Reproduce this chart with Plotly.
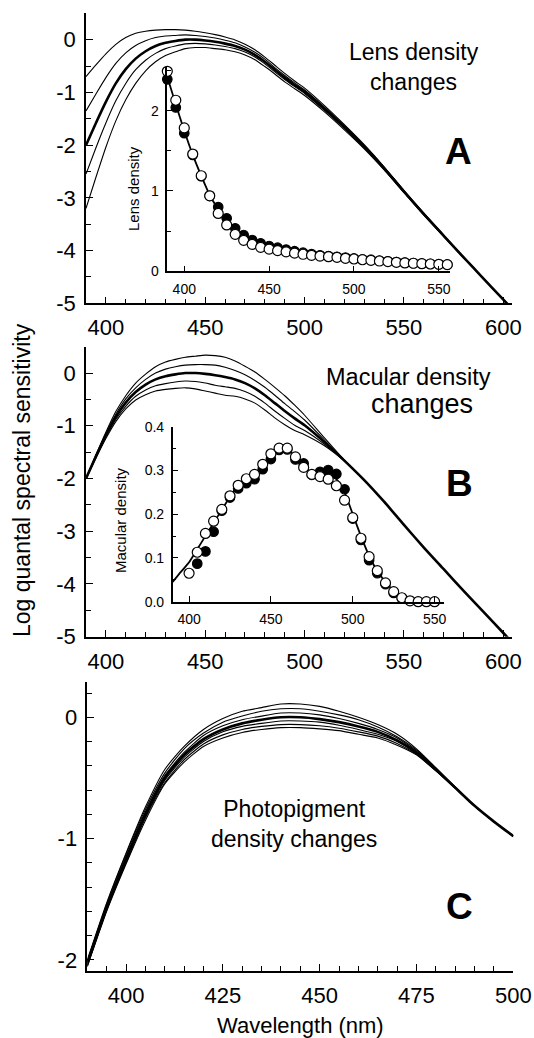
import plotly.graph_objects as go

# ---------------- data ----------------
wl_main = [390, 395, 400, 405, 410, 415, 420, 425, 430, 435, 440, 445, 450, 455, 460, 465, 470,
           475, 480, 485, 490, 495, 500, 510, 520, 530, 540, 550, 560, 570, 580, 590, 600, 604]

# Panel A: lens density changes (thin curves + thick standard curve)
a_thick = [-2.00, -1.58, -1.18, -0.83, -0.56, -0.36, -0.22, -0.12, -0.06, -0.025, 0.0, 0.0, -0.015,
           -0.04, -0.075, -0.12, -0.19, -0.29, -0.42, -0.57, -0.72, -0.86, -0.99, -1.31, -1.66,
           -2.03, -2.44, -2.88, -3.31, -3.72, -4.13, -4.53, -4.93, -5.09]
a_thin1 = [-0.70, -0.48, -0.27, -0.09, 0.04, 0.12, 0.16, 0.18, 0.19, 0.19, 0.18, 0.16, 0.13, 0.095,
           0.05, -0.005, -0.085, -0.19, -0.33, -0.485, -0.64, -0.785, -0.92, -1.25, -1.61, -1.99,
           -2.41, -2.86, -3.29, -3.71, -4.12, -4.53, -4.93, -5.09]
a_thin2 = [-1.35, -1.03, -0.72, -0.45, -0.25, -0.11, -0.02, 0.04, 0.07, 0.08, 0.09, 0.08, 0.06, 0.03,
           -0.01, -0.06, -0.14, -0.24, -0.37, -0.53, -0.68, -0.82, -0.955, -1.28, -1.63, -2.01,
           -2.42, -2.87, -3.30, -3.71, -4.13, -4.53, -4.93, -5.09]
a_thin3 = [-2.55, -2.05, -1.58, -1.16, -0.83, -0.57, -0.39, -0.26, -0.17, -0.12, -0.08, -0.07, -0.08,
           -0.10, -0.13, -0.17, -0.235, -0.33, -0.46, -0.61, -0.755, -0.89, -1.02, -1.34, -1.68,
           -2.05, -2.45, -2.89, -3.32, -3.73, -4.13, -4.53, -4.93, -5.09]
a_thin4 = [-3.20, -2.61, -2.04, -1.54, -1.14, -0.83, -0.59, -0.42, -0.30, -0.23, -0.17, -0.15, -0.15,
           -0.17, -0.19, -0.23, -0.29, -0.38, -0.51, -0.65, -0.80, -0.93, -1.06, -1.37, -1.71,
           -2.07, -2.47, -2.90, -3.33, -3.73, -4.14, -4.53, -4.93, -5.09]

# Inset A: lens density
wl_lens = [390, 395, 400, 405, 410, 415, 420, 425, 430, 435, 440, 445, 450, 455, 460, 465, 470,
           475, 480, 485, 490, 495, 500, 505, 510, 515, 520, 525, 530, 535, 540, 545, 550, 555]
lens_fit = [2.42, 2.08, 1.75, 1.45, 1.19, 0.95, 0.77, 0.62, 0.50, 0.42, 0.36, 0.32, 0.29, 0.27, 0.25,
            0.23, 0.215, 0.20, 0.19, 0.18, 0.17, 0.16, 0.15, 0.14, 0.135, 0.125, 0.117, 0.11, 0.10,
            0.097, 0.092, 0.088, 0.085, 0.08]
lens_filled = [2.39, 2.04, 1.72, 1.45, 1.185, 0.94, 0.80, 0.66, 0.535, 0.452, 0.39, 0.349, 0.315,
               0.294, 0.27, 0.25, 0.232, 0.215, 0.20, 0.19, 0.18, 0.17, 0.16, 0.15, 0.142, 0.132,
               0.124, 0.116, 0.108, 0.102, 0.097, 0.092, 0.088, 0.083]
lens_open = [2.49, 2.13, 1.785, 1.46, 1.19, 0.94, 0.72, 0.577, 0.46, 0.386, 0.336, 0.299, 0.276,
             0.257, 0.242, 0.226, 0.212, 0.199, 0.19, 0.182, 0.174, 0.162, 0.153, 0.144, 0.137,
             0.128, 0.12, 0.112, 0.104, 0.10, 0.095, 0.091, 0.087, 0.083]

# Panel B: macular density changes
wl_b_thin = [390, 395, 400, 405, 410, 415, 420, 425, 430, 435, 440, 445, 450, 455, 460, 465, 470,
             475, 480, 485, 490, 495, 500, 510, 520, 530]
b_thick = [-2.00, -1.58, -1.18, -0.83, -0.56, -0.36, -0.22, -0.12, -0.06, -0.025, 0.0, 0.0, -0.015,
           -0.04, -0.075, -0.12, -0.19, -0.29, -0.42, -0.57, -0.72, -0.86, -0.99, -1.31, -1.66,
           -2.03, -2.44, -2.88, -3.31, -3.72, -4.13, -4.53, -4.93, -5.09]
b_thin1 = [-2.00, -1.55, -1.12, -0.73, -0.43, -0.19, -0.02, 0.12, 0.21, 0.26, 0.30, 0.32, 0.34, 0.33,
           0.30, 0.23, 0.13, 0.02, -0.12, -0.27, -0.43, -0.61, -0.80, -1.23, -1.65, -2.03]
b_thin2 = [-2.00, -1.565, -1.15, -0.78, -0.49, -0.28, -0.12, 0.0, 0.075, 0.12, 0.15, 0.16, 0.16, 0.15,
           0.11, 0.05, -0.03, -0.14, -0.27, -0.42, -0.58, -0.73, -0.89, -1.27, -1.66, -2.03]
b_thin3 = [-2.00, -1.60, -1.21, -0.88, -0.63, -0.44, -0.32, -0.24, -0.20, -0.17, -0.15, -0.16, -0.19,
           -0.23, -0.26, -0.29, -0.35, -0.44, -0.57, -0.72, -0.86, -0.99, -1.09, -1.35, -1.66, -2.03]
b_thin4 = [-2.00, -1.61, -1.24, -0.92, -0.68, -0.51, -0.41, -0.34, -0.31, -0.29, -0.28, -0.30, -0.34,
           -0.38, -0.42, -0.44, -0.49, -0.57, -0.70, -0.85, -0.98, -1.09, -1.17, -1.38, -1.67, -2.03]

# Inset B: macular density
wl_mac_fit = [390, 395, 400, 405, 410, 415, 420, 425, 430, 435, 440, 445, 450, 455, 460, 465, 470,
              475, 480, 485, 490, 495, 500, 505, 510, 515, 520, 525, 530, 535, 540]
mac_fit = [0.045, 0.068, 0.09, 0.12, 0.15, 0.18, 0.21, 0.24, 0.265, 0.28, 0.29, 0.31, 0.335, 0.35,
           0.35, 0.33, 0.31, 0.295, 0.29, 0.29, 0.28, 0.25, 0.20, 0.15, 0.105, 0.07, 0.045, 0.025,
           0.01, 0.003, 0.0]
wl_mac_filled = [405, 410, 415, 420, 425, 430, 435, 440, 445, 450, 455, 460, 465, 470, 475, 480, 485,
                 490, 495, 500, 505, 510, 515, 520, 525, 530]
mac_filled = [0.087, 0.115, 0.16, 0.208, 0.238, 0.259, 0.271, 0.28, 0.303, 0.326, 0.347, 0.348, 0.325,
              0.316, 0.29, 0.297, 0.301, 0.292, 0.257, 0.19, 0.141, 0.095, 0.065, 0.04, 0.02, 0.008]
wl_mac_open = [400, 405, 410, 415, 420, 425, 430, 435, 440, 445, 450, 455, 460, 465, 470, 475, 480,
               485, 490, 495, 500, 505, 510, 515, 520, 525, 530, 535, 540, 545, 550]
mac_open = [0.065, 0.113, 0.156, 0.184, 0.211, 0.242, 0.266, 0.281, 0.291, 0.314, 0.338, 0.351, 0.351,
            0.331, 0.307, 0.291, 0.286, 0.28, 0.265, 0.232, 0.192, 0.145, 0.103, 0.071, 0.043, 0.023,
            0.009, 0.002, 0.0, 0.0, 0.0]

# Panel C: photopigment density changes
wl_c = [390, 395, 400, 405, 410, 415, 420, 425, 430, 435, 440, 445, 450, 455, 460, 465, 470, 475,
        480, 485, 490, 495, 500]
c_thick = [-2.03, -1.57, -1.17, -0.80, -0.50, -0.31, -0.18, -0.10, -0.05, -0.02, 0.0, 0.0, -0.015,
           -0.04, -0.075, -0.12, -0.19, -0.29, -0.43, -0.58, -0.73, -0.86, -0.98]
c_thin1 = [-2.00, -1.53, -1.12, -0.74, -0.43, -0.24, -0.10, -0.01, 0.05, 0.08, 0.11, 0.11, 0.09, 0.05,
           0.0, -0.06, -0.14, -0.26, -0.415, -0.574, -0.73, -0.86, -0.98]
c_thin2 = [-2.01, -1.54, -1.13, -0.76, -0.46, -0.26, -0.13, -0.04, 0.01, 0.05, 0.07, 0.07, 0.05, 0.02,
           -0.02, -0.08, -0.16, -0.27, -0.42, -0.576, -0.73, -0.86, -0.98]
c_thin3 = [-2.02, -1.56, -1.15, -0.78, -0.48, -0.29, -0.15, -0.07, -0.02, 0.01, 0.035, 0.035, 0.02,
           -0.01, -0.05, -0.10, -0.17, -0.28, -0.425, -0.578, -0.73, -0.86, -0.98]
c_thin4 = [-2.04, -1.58, -1.18, -0.82, -0.52, -0.33, -0.20, -0.12, -0.075, -0.05, -0.03, -0.03, -0.04,
           -0.065, -0.10, -0.14, -0.20, -0.30, -0.434, -0.582, -0.73, -0.86, -0.98]
c_thin5 = [-2.05, -1.59, -1.20, -0.83, -0.54, -0.35, -0.22, -0.145, -0.10, -0.075, -0.06, -0.06,
           -0.07, -0.09, -0.12, -0.155, -0.215, -0.305, -0.44, -0.583, -0.73, -0.86, -0.98]
c_thin6 = [-2.055, -1.60, -1.21, -0.85, -0.55, -0.37, -0.24, -0.17, -0.125, -0.10, -0.085, -0.085,
           -0.095, -0.11, -0.14, -0.17, -0.23, -0.31, -0.442, -0.585, -0.73, -0.86, -0.98]

ticks_main_x = [400, 450, 500, 550, 600]
ticks_main_y = [-5, -4, -3, -2, -1, 0]
ticks_inset_x = [400, 450, 500, 550]
ticks_lens_y = [0, 1, 2]
ticks_mac_y = [0.0, 0.1, 0.2, 0.3, 0.4]
ticks_c_x = [400, 425, 450, 475, 500]
ticks_c_y = [-2, -1, 0]

# ---------------- figure ----------------
W, H = 534, 1038
FONT = "Liberation Sans, Arial, Helvetica, sans-serif"


def fx(x):
    return x / W


def fy(y):
    return 1 - y / H


fig = go.Figure()


def add_line(x, y, xa, ya, width):
    fig.add_trace(go.Scatter(x=x, y=y, mode='lines', xaxis=xa, yaxis=ya,
                             line=dict(color='black', width=width, shape='spline', smoothing=0.6),
                             hoverinfo='skip', showlegend=False))


def add_markers(x, y, xa, ya, filled):
    fig.add_trace(go.Scatter(x=x, y=y, mode='markers', xaxis=xa, yaxis=ya, cliponaxis=False,
                             marker=dict(symbol='circle', size=10 if not filled else 9.5,
                                         color='black' if filled else 'white',
                                         line=dict(color='black', width=1.2)),
                             hoverinfo='skip', showlegend=False))


# Panel A
for ys in (a_thin1, a_thin2, a_thin3, a_thin4):
    add_line(wl_main, ys, 'x', 'y', 1.1)
add_line(wl_main, a_thick, 'x', 'y', 2.6)
# Inset A
add_line(wl_lens, lens_fit, 'x2', 'y2', 1.8)
add_markers(wl_lens, lens_filled, 'x2', 'y2', True)
add_markers(wl_lens, lens_open, 'x2', 'y2', False)

# Panel B
for ys in (b_thin1, b_thin2, b_thin3, b_thin4):
    add_line(wl_b_thin, ys, 'x3', 'y3', 1.1)
add_line(wl_main, b_thick, 'x3', 'y3', 2.6)
# Inset B
add_line(wl_mac_fit, mac_fit, 'x4', 'y4', 1.8)
add_markers(wl_mac_filled, mac_filled, 'x4', 'y4', True)
add_markers(wl_mac_open, mac_open, 'x4', 'y4', False)

# Panel C
for ys in (c_thin1, c_thin2, c_thin3, c_thin4, c_thin5, c_thin6):
    add_line(wl_c, ys, 'x5', 'y5', 1.1)
add_line(wl_c, c_thick, 'x5', 'y5', 2.6)


def ax(domain, rng, anchor, tickvals, ticktext, size, ticklen, minor=None):
    d = dict(domain=domain, range=rng, anchor=anchor, showline=True, linecolor='black', linewidth=1.5,
             ticks='inside', ticklen=ticklen, tickwidth=1.3, tickcolor='black', showgrid=False,
             zeroline=False, mirror=False, fixedrange=True, tickmode='array', tickvals=tickvals,
             ticktext=ticktext, tickfont=dict(family=FONT, size=size, color='black'),
             ticklabelstandoff=4, automargin=False)
    if minor:
        d['minor'] = dict(tickmode='linear', tick0=minor[0], dtick=minor[1], ticks='inside',
                          ticklen=ticklen - 2, tickwidth=1.2, tickcolor='black', showgrid=False)
    return d


def lbl(vals, fmt):
    return [fmt.format(v).replace('\u2212', '-') for v in vals]


MAIN = 22
INS = 14

fig.update_layout(
    width=W, height=H, margin=dict(l=0, r=0, t=0, b=0, pad=0), autosize=False,
    paper_bgcolor='white', plot_bgcolor='rgba(0,0,0,0)', showlegend=False,
    font=dict(family=FONT, color='black'),
    xaxis=ax([fx(86), fx(511.7)], [390, 604.2], 'y', ticks_main_x, lbl(ticks_main_x, '{}'), MAIN, 7, (390, 10)),
    yaxis=ax([fy(303.3), fy(13.3)], [-5, 0.5], 'x', ticks_main_y, lbl(ticks_main_y, '{}'), MAIN, 7, (0, 0.5)),
    xaxis2=ax([fx(167.3), fx(449.5)], [390, 556.3], 'y2', ticks_inset_x, lbl(ticks_inset_x, '{}'), INS, 6),
    yaxis2=ax([fy(271.3), fy(66.5)], [0, 2.55], 'x2', ticks_lens_y, lbl(ticks_lens_y, '{}'), INS, 6, (0, 0.5)),
    xaxis3=ax([fx(86), fx(511.7)], [390, 604.2], 'y3', ticks_main_x, lbl(ticks_main_x, '{}'), MAIN, 7, (390, 10)),
    yaxis3=ax([fy(636.7), fy(346.7)], [-5, 0.5], 'x3', ticks_main_y, lbl(ticks_main_y, '{}'), MAIN, 7, (0, 0.5)),
    xaxis4=ax([fx(172.7), fx(444.4)], [390, 556], 'y4', ticks_inset_x, lbl(ticks_inset_x, '{}'), INS, 6),
    yaxis4=ax([fy(601.7), fy(426.7)], [0, 0.4], 'x4', ticks_mac_y, lbl(ticks_mac_y, '{:.1f}'), INS, 6, (0, 0.05)),
    xaxis5=ax([fx(87.3), fx(513.3)], [390, 500], 'y5', ticks_c_x, lbl(ticks_c_x, '{}'), MAIN, 7, (390, 5)),
    yaxis5=ax([fy(970.7), fy(681.7)], [-2.089, 0.2935], 'x5', ticks_c_y, lbl(ticks_c_y, '{}'), MAIN, 7, (0, 0.2)),
)


def note(text, x, y, size, bold=False, angle=0):
    fig.add_annotation(text=('<b>%s</b>' % text) if bold else text, x=fx(x), y=fy(y),
                       xref='paper', yref='paper', xanchor='center', yanchor='middle',
                       showarrow=False, textangle=angle, align='center',
                       font=dict(family=FONT, size=size, color='black'))


note('Lens density<br>changes', 414, 67, 23)
note('A', 458, 151, 37, bold=True)
note('Macular density', 408, 377, 23.5)
note('changes', 422, 404, 27)
note('B', 459, 483, 37, bold=True)
note('Photopigment<br>density changes', 294, 824, 23)
note('C', 459, 906, 37, bold=True)
note('Lens density', 133, 189, 15, angle=-90)
note('Macular density', 120, 520, 15, angle=-90)
note('Log quantal spectral sensitivity', 22, 480, 23, angle=-90)
note('Wavelength (nm)', 300, 1025, 22)

fig.write_html("out.html", config={'displayModeBar': False},
               post_script="document.body.style.margin='0px';document.body.style.overflow='hidden';")
